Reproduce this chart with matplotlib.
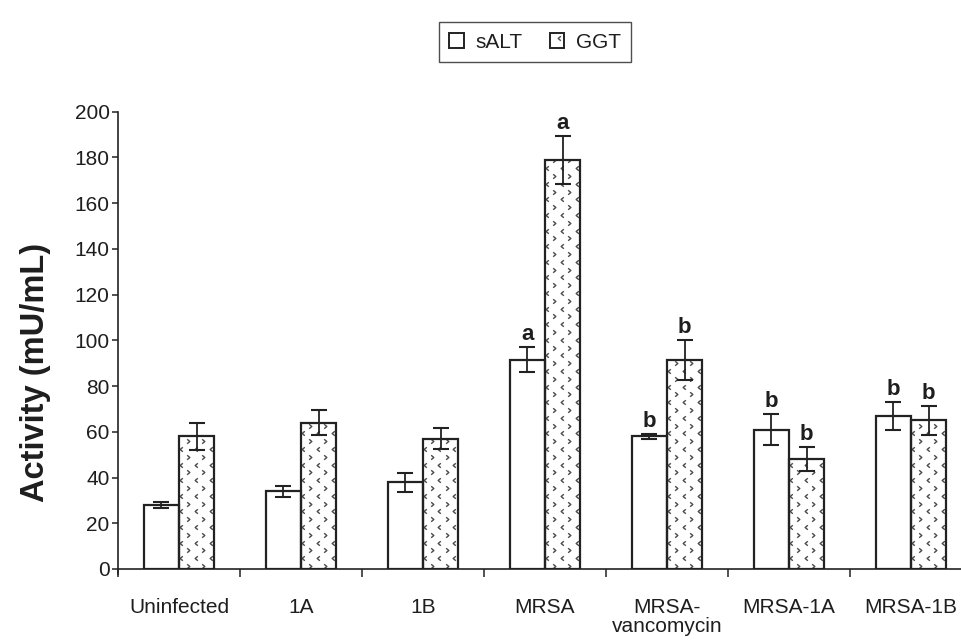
import numpy as np
import matplotlib
matplotlib.use("Agg")
import matplotlib.pyplot as plt
from matplotlib.path import Path
from matplotlib.patches import Rectangle
from matplotlib.lines import Line2D
from matplotlib.legend_handler import HandlerBase

# ---------------- data ----------------
categories = ["Uninfected", "1A", "1B", "MRSA", "MRSA-\nvancomycin", "MRSA-1A", "MRSA-1B"]
salt_mean = [28, 34, 38, 91.5, 58, 61, 67]
salt_err = [1.5, 2.3, 4.2, 5.5, 1.2, 6.7, 6.0]
ggt_mean = [58, 64, 57, 179, 91.5, 48, 65]
ggt_err = [6, 5.4, 4.5, 10.5, 8.7, 5.3, 6.2]
salt_letters = ["", "", "", "a", "b", "b", "b"]
ggt_letters = ["", "", "", "a", "b", "b", "b"]
yticks = [0, 20, 40, 60, 80, 100, 120, 140, 160, 180, 200]
series_names = ["sALT", "GGT"]
ylabel = "Activity (mU/mL)"

# ---------------- style ----------------
plt.rcParams['font.family'] = ['Liberation Sans', 'DejaVu Sans']
TXT = "#1e1e1e"
EDGE = "#222222"
PAT = "#4a4a4a"

fig = plt.figure(figsize=(9.61, 6.41), dpi=100)
W, H = 961, 641
ax_left, ax_right = 118, 972
ax_top, ax_bottom = 111.7, 569
ax = fig.add_axes([ax_left / W, 1 - ax_bottom / H, (ax_right - ax_left) / W, (ax_bottom - ax_top) / H])

n = len(categories)
x = np.arange(n)
w = 0.29

# chevron marker paths
CHEV_R = Path([(-0.3, 0.5), (0.3, 0.0), (-0.3, -0.5)], [Path.MOVETO, Path.LINETO, Path.LINETO])
CHEV_L = Path([(0.3, 0.5), (-0.3, 0.0), (0.3, -0.5)], [Path.MOVETO, Path.LINETO, Path.LINETO])

# fills
b1 = ax.bar(x - w / 2, salt_mean, w, facecolor="white", edgecolor="none", zorder=2)
b2 = ax.bar(x + w / 2, ggt_mean, w, facecolor="white", edgecolor="none", zorder=2)

ax.set_xlim(-0.5, n - 0.5)
ax.set_ylim(0, 200)

# pixel -> data scale factors for the fill pattern
px_x = n / (ax_right - ax_left)
px_y = 200 / (ax_bottom - ax_top)
dx = 15 * px_x
dy = 7.8 * px_y
for rect in b2:
    x0, wd, ht = rect.get_x(), rect.get_width(), rect.get_height()
    rows = int(ht / dy) + 2
    for r in range(rows):
        yy = 3 * px_y + r * dy
        if r % 2 == 0:
            xs = np.arange(x0 + 9 * px_x, x0 + wd + dx, dx)
            mk = CHEV_R
        else:
            xs = np.arange(x0 + 1.5 * px_x, x0 + wd + dx, dx)
            mk = CHEV_L
        ln, = ax.plot(xs, np.full(len(xs), yy), linestyle="none", marker=mk,
                      markersize=3.2, markeredgewidth=1.0, markeredgecolor=PAT,
                      markerfacecolor="none", zorder=2.5)
        ln.set_clip_path(rect)

# edges on top
ax.bar(x - w / 2, salt_mean, w, facecolor="none", edgecolor=EDGE, linewidth=1.6, zorder=3)
ax.bar(x + w / 2, ggt_mean, w, facecolor="none", edgecolor=EDGE, linewidth=1.6, zorder=3)

# error bars
ax.errorbar(x - w / 2, salt_mean, yerr=salt_err, fmt="none", ecolor=EDGE,
            elinewidth=1.3, capsize=5.5, capthick=1.5, zorder=4)
ax.errorbar(x + w / 2, ggt_mean, yerr=ggt_err, fmt="none", ecolor=EDGE,
            elinewidth=1.3, capsize=5.5, capthick=1.5, zorder=4)

# significance letters
for xi, m, e, l in zip(x - w / 2, salt_mean, salt_err, salt_letters):
    if l:
        ax.annotate(l, (xi, m + e), xytext=(0, 5), textcoords="offset points",
                    ha="center", va="baseline", fontsize=16, fontweight="bold", color=TXT)
for xi, m, e, l in zip(x + w / 2, ggt_mean, ggt_err, ggt_letters):
    if l:
        ax.annotate(l, (xi, m + e), xytext=(0, 5), textcoords="offset points",
                    ha="center", va="baseline", fontsize=16, fontweight="bold", color=TXT)

# axes styling
for s in ["top", "right"]:
    ax.spines[s].set_visible(False)
for s in ["left", "bottom"]:
    ax.spines[s].set_color(EDGE)
    ax.spines[s].set_linewidth(1.2)
ax.spines["left"].set_bounds(-2.2, 200)

ax.set_yticks(yticks)
ax.set_yticklabels([str(v) for v in yticks])
ax.tick_params(axis="y", direction="out", length=4.5, width=1.1, color=EDGE,
               labelsize=15, labelcolor=TXT, pad=1.5)

ax.set_xticks(x)
ax.set_xticklabels(categories, linespacing=1.0)
ax.tick_params(axis="x", which="major", length=0, labelsize=15, labelcolor=TXT, pad=21)
ax.set_xticks(np.arange(-0.5, n, 1.0), minor=True)
ax.tick_params(axis="x", which="minor", direction="out", length=5.5, width=1.1, color=EDGE)

fig.text(36 / W, 1 - 372 / H, ylabel, rotation=90, ha="center", va="center",
         fontsize=23.5, fontweight="bold", color=TXT)

# legend
class ChevronHandler(HandlerBase):
    def create_artists(self, legend, orig_handle, xdescent, ydescent, width, height, fontsize, trans):
        r = Rectangle((-xdescent, -ydescent), width, height, facecolor="white",
                      edgecolor=EDGE, linewidth=1.4, transform=trans)
        m = Line2D([-xdescent + width * 0.62], [-ydescent + height * 0.62], linestyle="none",
                   marker=CHEV_L, markersize=3.2, markeredgewidth=1.0, markeredgecolor=PAT,
                   markerfacecolor="none", transform=trans)
        return [r, m]

class PlainHandler(HandlerBase):
    def create_artists(self, legend, orig_handle, xdescent, ydescent, width, height, fontsize, trans):
        r = Rectangle((-xdescent, -ydescent), width, height, facecolor="white",
                      edgecolor=EDGE, linewidth=1.4, transform=trans)
        return [r]

h1 = Rectangle((0, 0), 1, 1)
h2 = Rectangle((0, 0), 1, 1)
leg = fig.legend([h1, h2], series_names, handler_map={h1: PlainHandler(), h2: ChevronHandler()},
                 loc="center", bbox_to_anchor=(535 / W, 1 - 42 / H), ncol=2, fontsize=15,
                 frameon=True, fancybox=False, handlelength=0.7, handleheight=0.7,
                 handletextpad=0.55, columnspacing=1.3, borderpad=0.5, labelcolor=TXT)
leg.get_frame().set_edgecolor(EDGE)
leg.get_frame().set_linewidth(1.0)

fig.savefig("out.png", dpi=100)
